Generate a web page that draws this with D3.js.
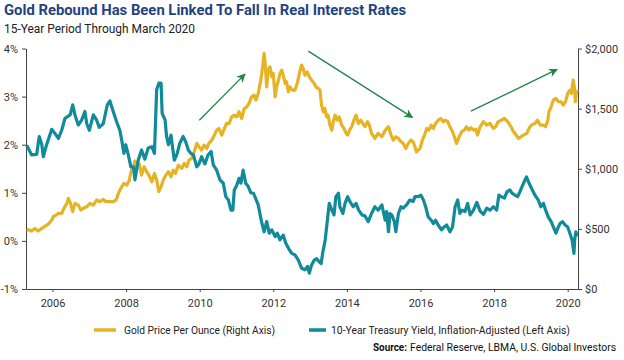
<!DOCTYPE html>
<html>
<head>
<meta charset="utf-8">
<script src="https://cdn.jsdelivr.net/npm/d3@7"></script>
<style>
  body { margin: 0; background: #fff; }
</style>
</head>
<body>
<script>
const width = 624, height = 360;

// 10-year TIPS yield, % (left axis)
const yieldDates = [2005.30,2005.43,2005.57,2005.64,2005.71,2005.75,2005.84,2005.98,2006.07,2006.16,2006.25,2006.34,2006.48,2006.55,2006.61,2006.70,2006.79,2006.88,2006.93,2007.00,2007.11,2007.20,2007.27,2007.38,2007.49,2007.56,2007.65,2007.74,2007.83,2007.88,2007.94,2007.99,2008.06,2008.13,2008.20,2008.24,2008.29,2008.33,2008.42,2008.51,2008.60,2008.70,2008.77,2008.83,2008.89,2008.95,2008.98,2009.06,2009.10,2009.15,2009.22,2009.26,2009.31,2009.38,2009.46,2009.55,2009.62,2009.69,2009.76,2009.83,2009.92,2009.98,2010.05,2010.14,2010.23,2010.31,2010.37,2010.46,2010.55,2010.64,2010.71,2010.78,2010.85,2010.90,2010.94,2011.01,2011.07,2011.12,2011.18,2011.25,2011.32,2011.39,2011.46,2011.50,2011.59,2011.68,2011.75,2011.82,2011.89,2011.96,2012.05,2012.11,2012.18,2012.27,2012.34,2012.41,2012.50,2012.59,2012.68,2012.77,2012.86,2012.93,2012.98,2013.04,2013.11,2013.18,2013.24,2013.30,2013.34,2013.41,2013.47,2013.52,2013.59,2013.65,2013.70,2013.77,2013.81,2013.89,2013.95,2014.02,2014.08,2014.17,2014.25,2014.32,2014.41,2014.49,2014.58,2014.67,2014.76,2014.85,2014.95,2015.04,2015.08,2015.13,2015.17,2015.22,2015.29,2015.33,2015.40,2015.47,2015.53,2015.62,2015.71,2015.80,2015.85,2015.94,2016.01,2016.08,2016.14,2016.21,2016.29,2016.35,2016.41,2016.48,2016.57,2016.64,2016.71,2016.80,2016.87,2016.94,2017.01,2017.07,2017.13,2017.21,2017.28,2017.35,2017.44,2017.53,2017.62,2017.71,2017.80,2017.89,2017.98,2018.07,2018.13,2018.19,2018.28,2018.35,2018.43,2018.49,2018.57,2018.64,2018.70,2018.76,2018.84,2018.88,2018.95,2019.02,2019.11,2019.20,2019.27,2019.34,2019.40,2019.47,2019.55,2019.61,2019.68,2019.73,2019.79,2019.86,2019.93,2020.00,2020.06,2020.12,2020.17,2020.19,2020.22,2020.26];
const yieldValues = [1.99,1.79,1.80,2.17,2.00,1.75,2.00,2.32,2.23,2.13,2.30,2.55,2.62,2.83,2.62,2.41,2.51,2.69,2.44,2.30,2.62,2.51,2.36,2.44,2.83,2.91,2.69,2.48,2.30,2.10,1.82,2.00,1.79,1.54,1.54,1.27,1.50,1.68,1.89,1.70,1.93,1.96,1.82,3.14,3.28,3.28,2.65,2.51,2.17,2.00,2.20,1.96,1.68,1.80,2.03,2.17,2.06,1.89,1.82,1.79,1.54,1.60,1.75,1.60,1.79,1.86,1.58,1.47,1.27,1.20,0.92,0.85,0.64,0.64,1.06,1.16,1.30,1.20,1.47,1.20,1.13,1.00,0.99,0.92,0.75,0.40,0.19,0.40,0.16,0.23,0.09,0.16,0.02,0.12,-0.05,-0.15,-0.26,-0.29,-0.40,-0.57,-0.60,-0.53,-0.67,-0.50,-0.40,-0.37,-0.43,-0.47,-0.26,0.02,0.43,0.78,0.64,0.54,0.92,0.99,0.71,0.57,0.78,0.92,0.82,0.71,0.78,0.64,0.54,0.52,0.40,0.57,0.71,0.64,0.75,0.43,0.61,0.19,0.57,0.54,0.40,0.19,0.57,0.71,0.68,0.75,0.85,0.82,0.92,0.92,0.95,0.85,0.71,0.50,0.43,0.36,0.43,0.33,0.23,0.29,0.33,0.19,0.29,0.71,0.85,0.57,0.64,0.61,0.78,0.54,0.64,0.80,0.62,0.55,0.68,0.64,0.71,0.64,0.95,0.92,0.89,1.02,1.06,0.99,0.95,0.92,1.02,1.13,1.27,1.33,1.20,1.09,0.95,0.85,0.71,0.78,0.64,0.50,0.40,0.29,0.16,0.26,0.36,0.40,0.33,0.29,0.16,0.02,-0.26,0.02,0.19,0.09];

// Gold price, $ per ounce (right axis)
const goldDates = [2005.30,2005.43,2005.52,2005.61,2005.71,2005.80,2005.89,2005.98,2006.02,2006.10,2006.16,2006.25,2006.31,2006.39,2006.43,2006.49,2006.55,2006.61,2006.70,2006.77,2006.84,2006.93,2007.02,2007.11,2007.20,2007.29,2007.38,2007.45,2007.54,2007.64,2007.73,2007.79,2007.88,2007.94,2008.02,2008.09,2008.13,2008.20,2008.24,2008.29,2008.36,2008.42,2008.49,2008.56,2008.62,2008.70,2008.77,2008.83,2008.89,2008.95,2009.01,2009.08,2009.15,2009.22,2009.28,2009.34,2009.42,2009.51,2009.58,2009.65,2009.71,2009.78,2009.85,2009.92,2009.98,2010.05,2010.12,2010.19,2010.25,2010.33,2010.40,2010.46,2010.52,2010.60,2010.67,2010.73,2010.80,2010.87,2010.94,2011.01,2011.07,2011.14,2011.21,2011.28,2011.34,2011.41,2011.48,2011.53,2011.59,2011.66,2011.71,2011.75,2011.78,2011.82,2011.86,2011.91,2011.96,2012.00,2012.05,2012.09,2012.14,2012.18,2012.23,2012.27,2012.32,2012.36,2012.41,2012.45,2012.52,2012.59,2012.65,2012.73,2012.77,2012.81,2012.86,2012.92,2012.98,2013.04,2013.11,2013.16,2013.22,2013.27,2013.31,2013.36,2013.40,2013.45,2013.49,2013.54,2013.59,2013.63,2013.68,2013.74,2013.79,2013.86,2013.92,2013.98,2014.02,2014.07,2014.13,2014.19,2014.25,2014.31,2014.38,2014.43,2014.49,2014.56,2014.61,2014.67,2014.76,2014.85,2014.95,2015.02,2015.08,2015.13,2015.20,2015.26,2015.33,2015.40,2015.47,2015.53,2015.60,2015.67,2015.74,2015.80,2015.85,2015.89,2015.94,2015.99,2016.05,2016.11,2016.17,2016.23,2016.29,2016.35,2016.41,2016.48,2016.55,2016.62,2016.67,2016.74,2016.80,2016.87,2016.92,2016.98,2017.05,2017.12,2017.19,2017.25,2017.31,2017.37,2017.44,2017.50,2017.55,2017.62,2017.71,2017.80,2017.89,2017.98,2018.04,2018.11,2018.20,2018.28,2018.37,2018.46,2018.53,2018.60,2018.66,2018.73,2018.80,2018.89,2018.95,2019.01,2019.11,2019.18,2019.25,2019.34,2019.40,2019.46,2019.49,2019.55,2019.61,2019.68,2019.75,2019.82,2019.88,2019.94,2020.00,2020.06,2020.10,2020.15,2020.18,2020.21,2020.23,2020.26];
const goldPrices = [496,482,504,482,504,523,540,573,601,615,629,629,671,712,754,712,643,712,698,657,671,684,712,698,740,726,745,726,726,726,740,795,850,878,864,906,975,1017,1065,1003,1040,947,1017,975,947,892,961,906,809,850,906,947,975,933,989,961,1030,1003,1044,1017,1072,1086,1141,1211,1183,1155,1197,1169,1211,1238,1280,1321,1335,1280,1335,1377,1377,1432,1446,1432,1474,1418,1501,1515,1543,1598,1612,1571,1626,1737,1847,1959,1875,1681,1820,1847,1765,1792,1598,1681,1737,1792,1820,1778,1709,1723,1640,1681,1654,1654,1709,1820,1862,1834,1778,1806,1765,1737,1709,1681,1668,1654,1529,1473,1501,1432,1446,1363,1321,1391,1446,1404,1432,1363,1335,1294,1280,1321,1349,1404,1446,1377,1404,1377,1350,1391,1363,1294,1252,1294,1266,1308,1335,1349,1280,1238,1266,1252,1225,1211,1169,1211,1238,1225,1183,1141,1155,1169,1238,1280,1335,1321,1363,1335,1377,1404,1418,1391,1404,1391,1349,1308,1266,1211,1266,1308,1321,1349,1321,1341,1321,1330,1280,1349,1391,1363,1377,1335,1349,1391,1404,1418,1391,1349,1308,1280,1252,1266,1280,1294,1335,1363,1377,1404,1363,1363,1349,1404,1473,1515,1571,1585,1557,1557,1529,1557,1626,1654,1626,1737,1681,1557,1626,1654];

const yearTicks = [2006, 2008, 2010, 2012, 2014, 2016, 2018, 2020];
const yieldTicks = [-1, 0, 1, 2, 3, 4];
const goldTicks = [0, 500, 1000, 1500, 2000];

// trend arrows, in (year, gold price) terms
const arrowFromYears = [2009.99, 2012.95, 2017.37];
const arrowFromPrices = [1404, 1978, 1479];
const arrowToYears = [2011.23, 2015.78, 2019.71];
const arrowToPrices = [1787, 1427, 1826];

const goldColor = '#e6b325', tealColor = '#118a9a', arrowColor = '#1e8747';
const font = 'Roboto, "Open Sans", sans-serif';

const svg = d3.select('body').append('svg')
  .attr('width', width).attr('height', height)
  .attr('viewBox', [0, 0, width, height]);

const x = d3.scaleLinear().domain([2005.28, 2020.28]).range([26, 578]);
const yLeft = d3.scaleLinear().domain([-1, 4]).range([289, 48.5]);
const yRight = d3.scaleLinear().domain([0, 2000]).range([289, 48.5]);

// title
svg.append('text').attr('x', 4).attr('y', 14.5)
  .attr('font-family', font).attr('font-weight', 700).attr('font-size', 14.5)
  .attr('fill', '#1f4381')
  .attr('textLength', 402).attr('lengthAdjust', 'spacingAndGlyphs')
  .text('Gold Rebound Has Been Linked To Fall In Real Interest Rates');
svg.append('text').attr('x', 4).attr('y', 32.5)
  .attr('font-family', font).attr('font-size', 13.5)
  .attr('fill', '#222')
  .attr('textLength', 191).attr('lengthAdjust', 'spacingAndGlyphs')
  .text('15-Year Period Through March 2020');

// axes
const styleAxis = g => {
  g.selectAll('path').attr('stroke', '#444');
  g.selectAll('line').attr('stroke', '#444');
  g.selectAll('text').attr('font-family', font).attr('font-size', 11).attr('fill', '#333');
};

svg.append('g').attr('transform', 'translate(0,289)')
  .call(d3.axisBottom(x).tickValues(yearTicks).tickFormat(d3.format('d')).tickSizeInner(3).tickSizeOuter(0).tickPadding(7))
  .call(styleAxis);

svg.append('g').attr('transform', 'translate(26,0)')
  .call(d3.axisLeft(yLeft).tickValues(yieldTicks).tickFormat(d => d + '%').tickSizeInner(4).tickSizeOuter(0).tickPadding(4))
  .call(styleAxis);

svg.append('g').attr('transform', 'translate(578,0)')
  .call(d3.axisRight(yRight).tickValues(goldTicks).tickFormat(d => '$' + d3.format(',')(d)).tickSizeInner(4).tickSizeOuter(0).tickPadding(3))
  .call(styleAxis);

// lines
const goldLine = d3.line().x((d, i) => x(goldDates[i])).y(d => yRight(d));
const yieldLine = d3.line().x((d, i) => x(yieldDates[i])).y(d => yLeft(d));

svg.append('path').datum(goldPrices)
  .attr('d', goldLine).attr('fill', 'none')
  .attr('stroke', goldColor).attr('stroke-width', 3.2)
  .attr('stroke-linejoin', 'round');

svg.append('path').datum(yieldValues)
  .attr('d', yieldLine).attr('fill', 'none')
  .attr('stroke', tealColor).attr('stroke-width', 3.2)
  .attr('stroke-linejoin', 'round');

// arrows
svg.append('defs').append('marker')
  .attr('id', 'head').attr('viewBox', '0 0 10 10')
  .attr('refX', 9).attr('refY', 5)
  .attr('markerWidth', 10).attr('markerHeight', 9)
  .attr('markerUnits', 'userSpaceOnUse')
  .attr('orient', 'auto')
  .append('path').attr('d', 'M0,0L10,5L0,10L3,5Z').attr('fill', arrowColor);

svg.append('g').selectAll('line')
  .data(arrowFromYears)
  .join('line')
  .attr('x1', d => x(d))
  .attr('y1', (d, i) => yRight(arrowFromPrices[i]))
  .attr('x2', (d, i) => x(arrowToYears[i]))
  .attr('y2', (d, i) => yRight(arrowToPrices[i]))
  .attr('stroke', arrowColor).attr('stroke-width', 1.3)
  .attr('marker-end', 'url(#head)');

// legend
const legend = svg.append('g').attr('font-family', font).attr('font-size', 11).attr('fill', '#222');
legend.append('line').attr('x1', 94).attr('x2', 116).attr('y1', 330).attr('y2', 330)
  .attr('stroke', goldColor).attr('stroke-width', 3.5);
legend.append('text').attr('x', 124).attr('y', 334)
  .attr('textLength', 151).attr('lengthAdjust', 'spacingAndGlyphs')
  .text('Gold Price Per Ounce (Right Axis)');
legend.append('line').attr('x1', 309).attr('x2', 326).attr('y1', 330).attr('y2', 330)
  .attr('stroke', tealColor).attr('stroke-width', 3.5);
legend.append('text').attr('x', 331).attr('y', 334)
  .attr('textLength', 239).attr('lengthAdjust', 'spacingAndGlyphs')
  .text('10-Year Treasury Yield, Inflation-Adjusted (Left Axis)');

// source
svg.append('text').attr('x', 373).attr('y', 351)
  .attr('font-family', font).attr('font-size', 10.5).attr('font-weight', 700).attr('fill', '#111')
  .attr('textLength', 34).attr('lengthAdjust', 'spacingAndGlyphs')
  .text('Source:');
svg.append('text').attr('x', 410).attr('y', 351)
  .attr('font-family', font).attr('font-size', 10).attr('fill', '#111')
  .attr('textLength', 206).attr('lengthAdjust', 'spacingAndGlyphs')
  .text('Federal Reserve, LBMA, U.S. Global Investors');
</script>
</body>
</html>
